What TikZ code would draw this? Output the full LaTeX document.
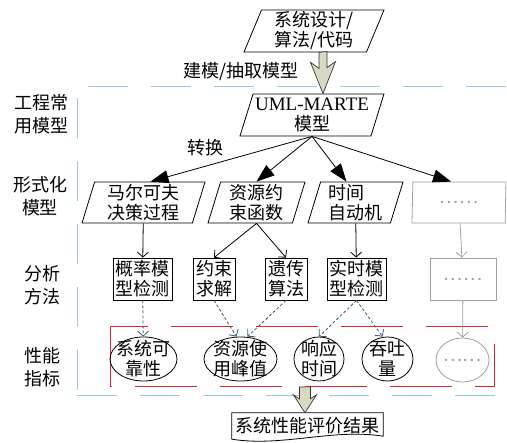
\documentclass[tikz,border=0pt]{standalone}
\usepackage{fontspec}
\setmainfont{Liberation Serif}
\newfontfamily\cjk{Noto Sans CJK SC}
\usetikzlibrary{shapes.geometric,arrows.meta}

\definecolor{sepblue}{RGB}{158,200,222}
\definecolor{boxred}{RGB}{226,36,44}
\definecolor{dotblue}{RGB}{52,92,122}
\definecolor{fadegray}{RGB}{160,160,160}
\definecolor{arrowfill}{RGB}{216,216,196}

\tikzset{
  txt/.style={font=\cjk\fontsize{18}{20}\selectfont, align=center, inner sep=0pt},
  side/.style={txt, font=\cjk\fontsize{18}{23}\selectfont},
  para/.style={txt, draw, line width=0.8pt, trapezium, trapezium left angle=71,
    trapezium right angle=109, trapezium stretches body, minimum height=41pt},
  method/.style={txt, draw, line width=0.8pt, minimum height=42pt},
  metric/.style={txt, draw, line width=0.8pt, ellipse, inner sep=-6pt, minimum height=44pt},
  faded/.style={draw=fadegray, text=fadegray},
  fat/.style={draw=black!80, fill=arrowfill, line width=0.7pt, line join=miter},
  sep/.style={draw=sepblue, line width=0.8pt, dash pattern=on 40pt off 23pt},
  redbox/.style={draw=boxred, line width=1pt, dash pattern=on 62pt off 23pt},
  conv/.style={line width=0.8pt, -{Triangle[length=18pt,width=13pt]}},
  flow/.style={line width=0.8pt, -{Straight Barb[length=5pt,width=11pt]}},
  yield/.style={draw=dotblue, line width=0.8pt, dash pattern=on 3pt off 2pt,
    -{Straight Barb[length=5pt,width=11pt]}},
}

\begin{document}
\begin{tikzpicture}[x=1pt, y=-1pt]
  \useasboundingbox (0,0) rectangle (507,443);

  % separators
  \draw[sep] (88,86) -- (507,86);
  \draw[sep] (77,98) -- (77,395);
  \draw[sep] (77,395) -- (497,395);
  \draw[redbox] (110,327) rectangle (494,387);
  \coordinate (boxfoot) at (305,387);

  % row labels
  \node[side] (lmodel) at (42,114) {工程常\\用模型};
  \node[side] (lformal) at (40,196) {形式化\\模型};
  \node[side] (lanal) at (42,285) {分析\\方法};
  \node[side] (lindex) at (42,367) {性能\\指标};

  % design and engineering model
  \node[para, minimum width=140pt, minimum height=42pt, trapezium left angle=65.5,
    trapezium right angle=114.5] (design) at (314,31) {系统设计/\\算法/代码};
  \node[para, minimum width=144pt, minimum height=42pt, trapezium left angle=69,
    trapezium right angle=111] (uml) at (312,115)
    {{\rmfamily\fontsize{19}{20}\selectfont UML-MARTE}\\模型};
  \node[txt] (lbuild) at (241,72) {建模/抽取模型};
  \node[txt] (ltrans) at (205,148) {转换};
  \path (design.south) ++(9,0) coordinate (tail1);
  \draw[fat] (tail1) ++(-4,0) -- ++(0,16) -- ++(-8.5,-6) -- (tail1 |- uml.north)
    -- ++(12.5,-32) -- ++(-8.5,6) -- ++(0,-16) -- cycle;

  % formal models
  \node[para, minimum width=123pt] (mdp) at (143.5,202.5) {马尔可夫\\决策过程};
  \node[para, minimum width=97pt] (rcf) at (256.5,202.5) {资源约\\束函数};
  \node[para, minimum width=95pt] (tam) at (355.5,202.5) {时间\hspace*{18pt}\\自动机};
  \node[para, faded, minimum width=94pt] (fmore) at (459,202.5) {……};

  % analysis methods
  \node[method, minimum width=59pt] (pmc) at (142.5,279) {概率模\\型检测};
  \node[method, minimum width=42pt] (csv) at (214,279) {约束\\求解};
  \node[method, minimum width=42pt] (gen) at (286,279) {遗传\\算法};
  \node[method, minimum width=59pt] (rtm) at (356.5,279) {实时模\\型检测};
  \node[method, faded, minimum width=66pt] (amore) at (463,279) {……};

  % performance metrics
  \node[metric, minimum width=67pt] (rel) at (143.5,359) {系统可\\靠性};
  \node[metric, minimum width=73pt] (peak) at (240.5,359) {资源使\\用峰值};
  \node[metric, minimum width=50pt] (resp) at (319,359) {响应\\时间};
  \node[metric, minimum width=51pt] (thru) at (387.5,359) {吞吐\\量};
  \node[metric, faded, minimum width=53pt] (pmore) at (462.5,360) {……};

  % result
  \node[txt, minimum width=151pt, minimum height=26pt] (result) at (307.5,426) {系统性能评价结果};
  \draw[line width=0.8pt] (result.south west) -- (result.north west) -- (result.north east)
    -- ([yshift=3pt]result.south east) .. controls +(-50,-8) and +(50,8) .. (result.south west);
  \draw[fat] (boxfoot) ++(-5.5,0) -- ++(0,12) -- ++(-6,-4) -- (boxfoot |- result.north)
    -- ++(11.5,-18) -- ++(-6,4) -- ++(0,-12) -- cycle;

  \begin{scope}
    \draw[conv] (uml.south -| uml) to ([xshift=7pt]mdp.north);
    \draw[conv] (uml.south -| uml) to (rcf.north);
    \draw[conv] (uml.south -| uml) to ([xshift=-9pt]tam.north);
    \draw[conv] (uml.south -| uml) to ([xshift=-8pt]fmore.north);
    \draw[flow] (mdp) to (pmc);
    \draw[flow] (rcf.south) to (csv.north);
    \draw[flow] (rcf.south) to (gen.north);
    \draw[flow] (tam) to (rtm);
    \draw[flow, draw=fadegray] (fmore) to (amore);
    \draw[yield] (pmc) to (rel);
    \draw[yield] (csv.south) to ([xshift=-4pt]peak.north);
    \draw[yield] (gen.south) to ([xshift=7pt]peak.north);
    \draw[yield] (rtm.south) to (resp.north);
    \draw[yield] (rtm.south) to ([xshift=-5pt]thru.north);
    \draw[flow, draw=fadegray] (amore) to (pmore);
  \end{scope}
\end{tikzpicture}
\end{document}
